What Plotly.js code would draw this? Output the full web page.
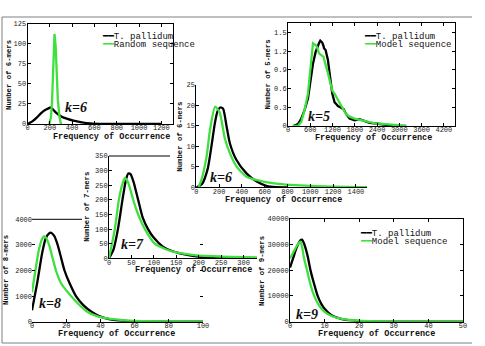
<!DOCTYPE html>
<html>
<head>
<meta charset="utf-8">
<script src="https://cdn.plot.ly/plotly-3.0.1.min.js"></script>
<style>
  html, body { margin: 0; padding: 0; background: #fff; }
  #chart { width: 485px; height: 346px; }
</style>
</head>
<body>
<div id="chart"></div>
<script>
// k=6, T. pallidum vs random sequence
const k6rFreqTp = [0, 40, 85, 120, 158, 188, 209, 233, 263, 307, 352, 412, 487, 561, 680, 800, 1000, 1200];
const k6rCountTp = [0, 2.9, 8.3, 13.3, 17.4, 19.5, 20.5, 17.4, 13.3, 9.1, 6.6, 4.1, 2.1, 0.8, 0.1, 0, 0, 0];
const k6rFreqRand = [195, 210, 220, 232, 242, 252, 262, 272, 287, 298, 307];
const k6rCountRand = [0, 8, 28, 72, 112, 98, 62, 30, 9, 1, 0];

// k=5, T. pallidum vs model sequence
const k5Freq = [135, 269, 359, 448, 538, 601, 646, 673, 745, 780, 807, 834, 870, 897, 924, 960, 969, 1013, 1032, 1076, 1121, 1166, 1193, 1229, 1256, 1318, 1345, 1408, 1435, 1498, 1525, 1570, 1660, 1794, 1929, 1973, 2063, 2153, 2198, 2377, 2556, 2646, 2736, 2915, 3184];
const k5CountTp = [0, 0.03, 0.12, 0.26, 0.44, 0.69, 0.86, 1.0, 1.19, 1.25, 1.30, 1.33, 1.37, 1.36, 1.34, 1.28, 1.25, 1.22, 1.16, 1.06, 0.85, 0.63, 0.52, 0.44, 0.38, 0.34, 0.32, 0.30, 0.29, 0.27, 0.24, 0.19, 0.12, 0.09, 0.11, 0.10, 0.08, 0.06, 0.05, 0.04, 0.03, 0.02, 0.005, 0, 0];
const k5CountModel = [0, 0, 0.07, 0.26, 0.52, 0.85, 1.17, 1.33, 1.30, 1.27, 1.22, 1.17, 1.15, 1.14, 1.12, 1.11, 1.08, 1.0, 0.95, 0.85, 0.74, 0.62, 0.57, 0.54, 0.52, 0.45, 0.42, 0.34, 0.31, 0.25, 0.23, 0.19, 0.15, 0.12, 0.10, 0.10, 0.08, 0.07, 0.06, 0.04, 0.035, 0.03, 0.02, 0.01, 0];

// k=6, T. pallidum vs model sequence
const k6FreqTp = [0, 50, 100, 130, 162, 185, 210, 235, 265, 295, 350, 440, 530, 620, 700, 800];
const k6CountTp = [0, 0.8, 4.5, 9.5, 15.5, 18.5, 19.5, 19.2, 15, 10.7, 6.8, 3.4, 1.4, 0.3, 0.05, 0];
const k6FreqModel = [20, 45, 90, 120, 165, 205, 250, 295, 355, 440, 590, 700, 825, 1000, 1120, 1300, 1500];
const k6CountModel = [0, 1.8, 7.5, 14, 19.7, 18.3, 12, 8.3, 5, 2.6, 1.4, 0.9, 0.6, 0.35, 0.2, 0.1, 0.05];

// k=7
const k7FreqTp = [0, 10, 20, 30, 38, 43, 48, 55, 65, 75, 87, 100, 120, 140, 158, 180, 200, 250, 300, 330];
const k7CountTp = [0, 30, 100, 200, 270, 290, 288, 260, 200, 140, 100, 70, 40, 25, 17, 10, 6, 3, 1, 0.5];
const k7FreqModel = [0, 13, 22, 30, 35, 42, 54, 65, 80, 102, 125, 150, 195, 250, 300, 330];
const k7CountModel = [0, 100, 200, 255, 274, 262, 200, 150, 100, 50, 32, 20, 10, 6, 4, 3];

// k=8
const k8FreqTp = [0, 3, 6, 8, 10, 11, 13, 15, 17, 19, 22, 25.7, 30, 35, 40, 45, 50, 60, 70, 80, 100];
const k8CountTp = [450, 1500, 2700, 3250, 3450, 3480, 3350, 3000, 2500, 2000, 1500, 1000, 650, 380, 200, 100, 50, 15, 5, 2, 0];
const k8FreqModel = [0, 2, 4, 6, 7, 8, 10, 12, 14, 17, 22.8, 27, 32, 38, 45, 55, 65, 80, 100];
const k8CountModel = [1150, 2000, 2800, 3250, 3330, 3300, 3000, 2500, 2000, 1500, 1000, 700, 400, 220, 120, 55, 25, 10, 3];

// k=9
const k9FreqTp = [0, 1, 2, 3, 3.5, 4, 5, 6, 7, 8, 9, 10, 12, 15, 20, 25, 30, 40, 50];
const k9CountTp = [21000, 25000, 29000, 31500, 31800, 30500, 26000, 19500, 14500, 10000, 7000, 5000, 2500, 1000, 250, 60, 10, 0, 0];
const k9FreqModel = [0, 1, 2, 3, 3.5, 4, 5, 6, 7, 8, 9, 10, 12, 15, 20, 25, 30, 40, 50];
const k9CountModel = [24500, 27000, 29500, 31000, 29000, 25000, 19500, 14000, 10000, 7200, 5200, 3800, 2200, 1100, 400, 150, 60, 10, 0];

const W = 485, H = 346;
const BLACK = '#000000', GREEN = '#3ee03e';
const mono = 'Liberation Mono, Courier New, monospace';
const tickFont = { family: mono, size: 7, color: '#222' };

function line(x, y, color, ax, name, smooth) {
    return {
        x: x, y: y, name: name, type: 'scatter', mode: 'lines',
        xaxis: 'x' + ax, yaxis: 'y' + ax, showlegend: false, hoverinfo: 'skip',
        line: { color: color, width: 2.3, shape: smooth ? 'spline' : 'linear', smoothing: 0.6 }
    };
}

function xAxis(n, left, right, range, dtick, extra) {
    return Object.assign({
        domain: [left / W, right / W], range: range, dtick: dtick, tick0: 0,
        anchor: 'y' + n, showgrid: false, zeroline: false, showline: true,
        linecolor: '#000', linewidth: 1, ticks: 'inside', ticklen: 3, tickcolor: '#000',
        tickfont: tickFont, ticklabelstandoff: -3, fixedrange: true
    }, extra || {});
}

function yAxis(n, top, bottom, range, dtick, extra) {
    return Object.assign({
        domain: [1 - bottom / H, 1 - top / H], range: range, dtick: dtick, tick0: 0,
        anchor: 'x' + n, showgrid: false, zeroline: false, showline: true,
        linecolor: '#000', linewidth: 1, ticks: 'inside', ticklen: 3, tickcolor: '#000',
        tickfont: tickFont, tickformat: 'd', ticklabelstandoff: -1, fixedrange: true
    }, extra || {});
}

function note(text, x, y, size, extra) {
    return Object.assign({
        text: text, x: x / W, y: 1 - y / H, xref: 'paper', yref: 'paper',
        showarrow: false, xanchor: 'center', yanchor: 'middle',
        font: { family: mono, size: size, color: '#111' }
    }, extra || {});
}

function xTitle(x, y) { return note('<b>Frequency of Occurrence</b>', x, y, 8.5); }
function yTitle(text, x, y) { return note('<b>' + text + '</b>', x, y, 7.3, { textangle: -90 }); }
function kLabel(text, x, y) {
    return note('<b><i>' + text + '</i></b>', x, y, 14,
        { font: { family: 'Liberation Serif, serif', size: 14, color: '#111' } });
}
function legendRow(text, color, x, y) {
    return note('<span style="color:' + color + '">━━</span>' + text, x, y, 9,
        { xanchor: 'left', font: { family: mono, size: 9, color: '#111' } });
}
function frameLine(x0, y0, x1, y1, color) {
    return {
        type: 'line', xref: 'paper', yref: 'paper',
        x0: x0 / W, y0: 1 - y0 / H, x1: x1 / W, y1: 1 - y1 / H,
        line: { color: color, width: 1 }
    };
}

const data = [
    line(k6rFreqTp, k6rCountTp, BLACK, '', 'T. pallidum', true),
    line(k6rFreqRand, k6rCountRand, GREEN, '', 'Random sequence', false),
    line(k5Freq, k5CountTp, BLACK, '2', 'T. pallidum', false),
    line(k5Freq, k5CountModel, GREEN, '2', 'Model sequence', false),
    line(k6FreqTp, k6CountTp, BLACK, '3', 'T. pallidum', true),
    line(k6FreqModel, k6CountModel, GREEN, '3', 'Model sequence', true),
    line(k7FreqTp, k7CountTp, BLACK, '4', 'T. pallidum', true),
    line(k7FreqModel, k7CountModel, GREEN, '4', 'Model sequence', true),
    line(k8FreqTp, k8CountTp, BLACK, '5', 'T. pallidum', true),
    line(k8FreqModel, k8CountModel, GREEN, '5', 'Model sequence', true),
    line(k9FreqTp, k9CountTp, BLACK, '6', 'T. pallidum', true),
    line(k9FreqModel, k9CountModel, GREEN, '6', 'Model sequence', true)
];

const layout = {
    width: W, height: H, autosize: false,
    margin: { l: 0, r: 0, t: 0, b: 0 },
    paper_bgcolor: '#ffffff', plot_bgcolor: 'rgba(0,0,0,0)',
    showlegend: false,
    xaxis: xAxis('', 27.5, 172.5, [0, 1300], 200, { mirror: 'ticks' }),
    yaxis: yAxis('', 23.5, 124, [0, 125], 25, { mirror: 'ticks' }),
    xaxis2: xAxis('2', 288, 455, [0, 4500], 600, { mirror: 'allticks' }),
    yaxis2: yAxis('2', 23.3, 126, [0, 1.65], 0.3, { mirror: 'allticks', tickformat: '' }),
    xaxis3: xAxis('3', 196.3, 367.3, [0, 1500], 200),
    yaxis3: yAxis('3', 85, 187.3, [0, 25], 5),
    xaxis4: xAxis('4', 109, 257, [0, 330], 50),
    yaxis4: yAxis('4', 156, 258.3, [0, 350], 50),
    xaxis5: xAxis('5', 32, 203, [0, 100], 20),
    yaxis5: yAxis('5', 219.3, 321.7, [0, 4000], 1000, { showline: false, mirror: 'ticks' }),
    xaxis6: xAxis('6', 290, 463, [0, 50], 10, { mirror: 'allticks' }),
    yaxis6: yAxis('6', 218.5, 321.7, [0, 40000], 10000, { mirror: 'allticks' }),
    shapes: [
        frameLine(2, 17, 472, 17, '#808080'),
        frameLine(2, 17, 2, 343, '#808080'),
        frameLine(2, 343, 472, 343, '#808080'),
        frameLine(32, 219.3, 82, 219.3, '#000'),
        frameLine(109, 156, 170, 156, '#000')
    ],
    annotations: [
        yTitle('Number of 6-mers', 9, 75),
        xTitle(111, 136.5),
        legendRow('T. pallidum', BLACK, 100, 36.7),
        legendRow('Random sequence', GREEN, 100, 44.5),
        kLabel('k=6', 76, 107),

        yTitle('Number of 5-mers', 267.5, 75),
        xTitle(373, 138),
        legendRow('T. pallidum', BLACK, 361.5, 36.7),
        legendRow('Model sequence', GREEN, 361.5, 45),
        kLabel('k=5', 319, 116.7),

        yTitle('Number of 6-mers', 180, 136.7),
        xTitle(283, 199.5),
        kLabel('k=6', 221, 177),

        yTitle('Number of 7-mers', 87, 206.7),
        xTitle(193, 270),
        kLabel('k=7', 132, 244),

        yTitle('Number of 8-mers', 6, 270),
        xTitle(116.7, 334),
        kLabel('k=8', 50, 303),

        yTitle('Number of 9-mers', 262, 271),
        xTitle(376.7, 334),
        legendRow('T. pallidum', BLACK, 358, 234),
        legendRow('Model sequence', GREEN, 358, 242),
        kLabel('k=9', 307, 314)
    ]
};

Plotly.newPlot('chart', data, layout, { displayModeBar: false, staticPlot: true });
</script>
</body>
</html>
